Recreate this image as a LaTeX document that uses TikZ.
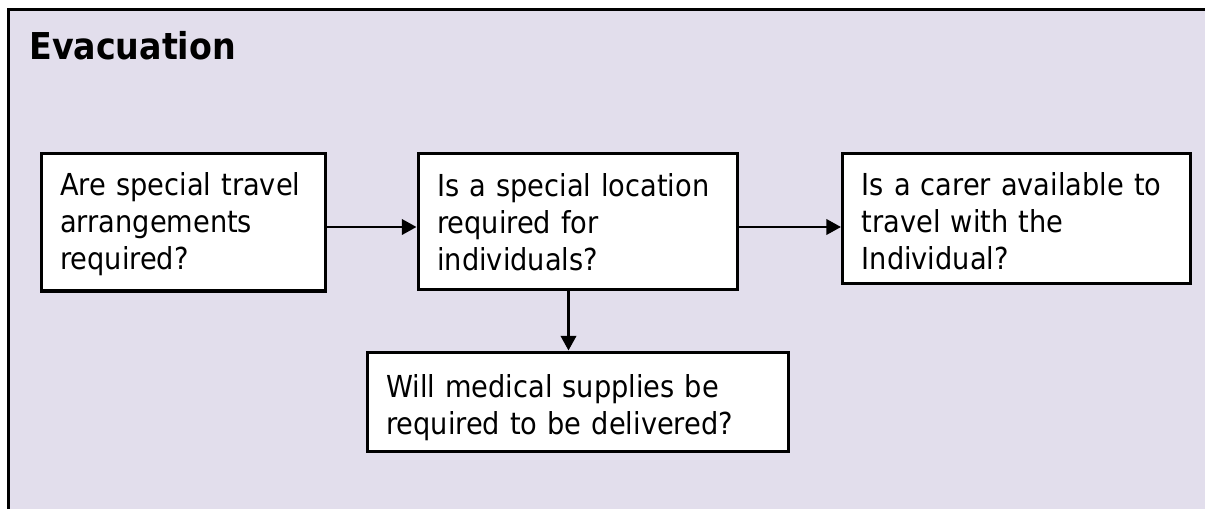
\documentclass[tikz,border=0pt]{standalone}
\usepackage{fontspec}
\setmainfont{DejaVu Sans Condensed}
\usetikzlibrary{arrows.meta}
\definecolor{lavender}{RGB}{226,222,236}
\newcommand\qfont{\fontsize{22.7pt}{27.75pt}\selectfont}

\begin{document}
\begin{tikzpicture}[x = 0.75pt, y = -0.75pt,
        frame/.style = {draw = black, line width = 2.4pt, fill = lavender},
        qbox/.style = {draw = black, fill = white, line width = 2.6pt, anchor = north west, align = left, inner xsep = 14.25pt, inner ysep = 0pt, font = \qfont},
        link/.style = {line width = 2.1pt, -{Triangle[length = 11pt, width = 11.5pt]}}]
    \useasboundingbox (0,0) rectangle (1205,508);
    \draw [frame] (8.5,9.5) rectangle (1212,515);
    \node [anchor = base west, inner sep = 0pt, font = \fontsize{27.75pt}{33pt}\selectfont\bfseries] (title) at (29,59) {Evacuation};
    \node [qbox, text width = 184.5pt, text height = 31.9pt, text depth = 71.25pt] (travel) at (39.5,151.5) {Are special travel\\arrangements\\required?};
    \node [qbox, text width = 211.1pt, text height = 32.25pt, text depth = 70.1pt] (location) at (416.5,151.5) {Is a special location\\required for\\individuals?};
    \node [qbox, text width = 232.5pt, text height = 31.9pt, text depth = 65.6pt] (carer) at (841,151.5) {Is a carer available to\\travel with the\\Individual?};
    \node [qbox, text width = 287.25pt, text height = 34.1pt, text depth = 40.5pt] (supplies) at (365.5,350.5) {Will medical supplies be\\required to be delivered?};
    \coordinate (ya) at (0,227);
    \coordinate (xa) at (568.5,0);
    \draw [link] (travel.east |- ya) -- (location.west |- ya);
    \draw [link] (location.east |- ya) -- (carer.west |- ya);
    \draw [link] (location.south -| xa) -- (supplies.north -| xa);
\end{tikzpicture}
\end{document}
